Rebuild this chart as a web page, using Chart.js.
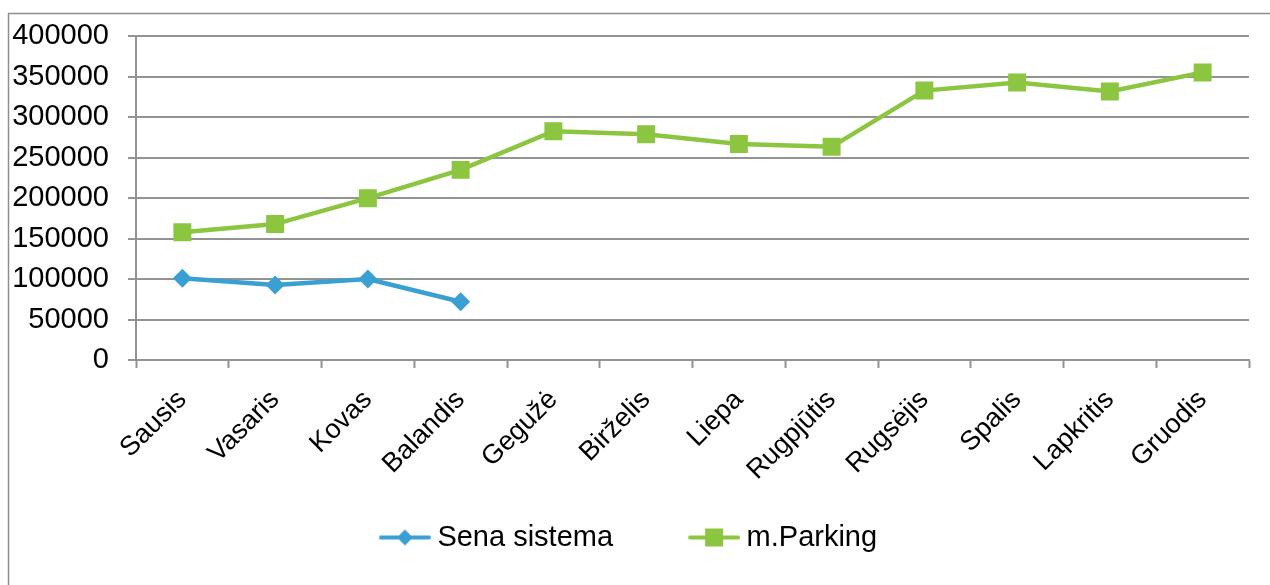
<!DOCTYPE html>
<html lang="lt">
<head>
    <meta charset="UTF-8">
    <title>Sena sistema / m.Parking</title>
    <script src="https://cdn.jsdelivr.net/npm/chart.js"></script>
    <style>
        body {
            margin: 0;
            padding: 0;
            background-color: #fff;
        }
        .chart-box {
            width: 1270px;
            height: 585px;
        }
    </style>
</head>
<body>
    <div class="chart-box">
        <canvas id="parkingChart"></canvas>
    </div>

    <script>
        // Months (x axis)
        const months = ['Sausis', 'Vasaris', 'Kovas', 'Balandis', 'Gegužė', 'Birželis',
            'Liepa', 'Rugpjūtis', 'Rugsėjis', 'Spalis', 'Lapkritis', 'Gruodis'];

        // Series values
        const senaSistema = [101000, 92600, 100000, 72000, null, null, null, null, null, null, null, null];
        const mParking = [158000, 168000, 200000, 235000, 282700, 279000, 267000, 263500, 333000, 343000, 332000, 355500];

        // Y axis ticks
        const yTicks = [0, 50000, 100000, 150000, 200000, 250000, 300000, 350000, 400000];

        const blue = '#3aa0d3';
        const green = '#8cc540';
        const gridGray = '#939393';
        const fontName = "'Liberation Sans', Arial, sans-serif";

        // legend symbol: line with the marker in the middle.
        // canvas is wider than the legend box, the symbol sits at its right end
        function legendSymbol(color, shape) {
            const c = document.createElement('canvas');
            c.width = 102;
            c.height = 24;
            const g = c.getContext('2d');
            g.strokeStyle = color;
            g.lineWidth = 4;
            g.lineCap = 'round';
            g.beginPath();
            g.moveTo(52, 12);
            g.lineTo(100, 12);
            g.stroke();
            g.fillStyle = color;
            g.beginPath();
            if (shape === 'diamond') {
                g.moveTo(76, 4);
                g.lineTo(84, 12);
                g.lineTo(76, 20);
                g.lineTo(68, 12);
                g.closePath();
            } else {
                g.rect(67, 3, 18, 18);
            }
            g.fill();
            return c;
        }
        const symbols = [legendSymbol(blue, 'diamond'), legendSymbol(green, 'square')];

        // outer frame (only top and left edge are visible in the picture)
        const framePlugin = {
            id: 'frame',
            beforeDraw(chart) {
                const ctx = chart.ctx;
                ctx.save();
                ctx.strokeStyle = '#8e8e8e';
                ctx.lineWidth = 1.5;
                ctx.beginPath();
                ctx.moveTo(8, 13.5);
                ctx.lineTo(1270, 13.5);
                ctx.moveTo(8.5, 13);
                ctx.lineTo(8.5, 585);
                ctx.stroke();
                ctx.restore();
            }
        };

        const ctx = document.getElementById('parkingChart').getContext('2d');
        const parkingChart = new Chart(ctx, {
            type: 'line',
            data: {
                labels: months,
                datasets: [{
                    label: 'Sena sistema',
                    data: senaSistema,
                    borderColor: blue,
                    backgroundColor: blue,
                    borderWidth: 4.5,
                    pointStyle: 'rectRot',
                    pointRadius: 9.5,
                    pointBorderWidth: 0,
                    spanGaps: false
                }, {
                    label: 'm.Parking',
                    data: mParking,
                    borderColor: green,
                    backgroundColor: green,
                    borderWidth: 4.5,
                    pointStyle: 'rect',
                    pointRadius: 12.7,
                    pointBorderWidth: 0
                }]
            },
            options: {
                responsive: true,
                maintainAspectRatio: false,
                animation: false,
                layout: {
                    padding: { left: -35, right: 21, top: 35, bottom: 23 }
                },
                plugins: {
                    tooltip: { enabled: false },
                    legend: {
                        position: 'bottom',
                        labels: {
                            usePointStyle: true,
                            pointStyleWidth: 86,
                            padding: 33,
                            color: '#000',
                            font: { family: fontName, size: 29 },
                            generateLabels(chart) {
                                const items = Chart.defaults.plugins.legend.labels.generateLabels(chart);
                                items.forEach((it, i) => { it.pointStyle = symbols[i]; });
                                return items;
                            }
                        }
                    }
                },
                scales: {
                    x: {
                        offset: true,
                        afterFit(scale) { scale.height = 130; },
                        grid: {
                            offset: true,
                            drawOnChartArea: false,
                            drawTicks: true,
                            tickLength: 8,
                            tickWidth: 2,
                            tickColor: gridGray
                        },
                        border: { display: true, color: gridGray, width: 2 },
                        ticks: {
                            minRotation: 45,
                            maxRotation: 45,
                            autoSkip: false,
                            padding: 16,
                            color: '#000',
                            font: { family: fontName, size: 27 }
                        }
                    },
                    y: {
                        min: 0,
                        max: 400000,
                        afterFit(scale) { scale.width = 171; },
                        afterBuildTicks(scale) {
                            scale.ticks = yTicks.map(v => ({ value: v }));
                        },
                        grid: {
                            color: gridGray,
                            lineWidth: 2,
                            drawTicks: true,
                            tickLength: 8
                        },
                        border: { display: true, color: gridGray, width: 2 },
                        ticks: {
                            padding: 19,
                            color: '#000',
                            font: { family: fontName, size: 29 },
                            callback: v => String(v)
                        }
                    }
                }
            },
            plugins: [framePlugin]
        });
    </script>
</body>
</html>
